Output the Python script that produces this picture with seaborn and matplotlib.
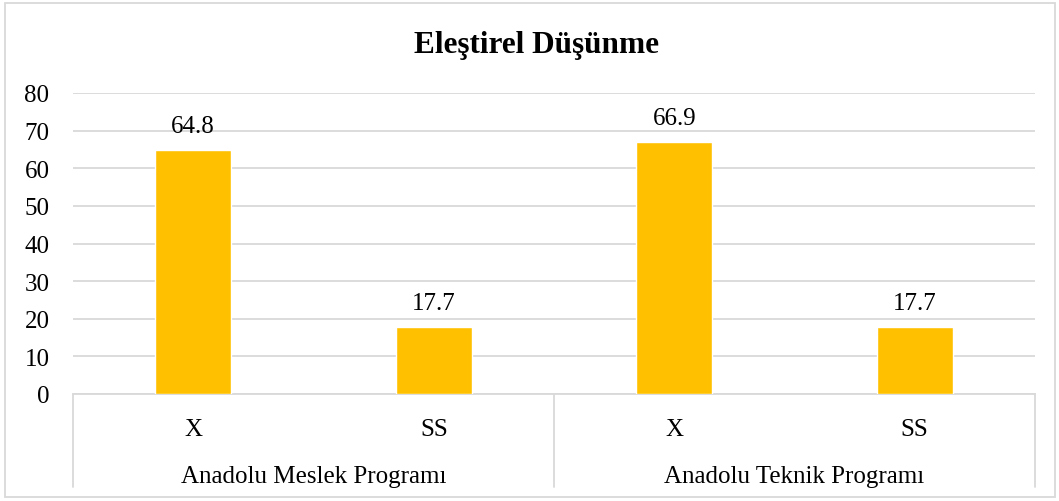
import matplotlib
matplotlib.use("Agg")
import matplotlib.pyplot as plt
import matplotlib.transforms as mtransforms
from matplotlib.patches import Rectangle
import seaborn as sns
import pandas as pd

title = "Eleştirel Düşünme"
groups = ["Anadolu Meslek Programı", "Anadolu Meslek Programı",
          "Anadolu Teknik Programı", "Anadolu Teknik Programı"]
stats = ["X", "SS", "X", "SS"]
values = [64.8, 17.7, 66.9, 17.7]
group_names = ["Anadolu Meslek Programı", "Anadolu Teknik Programı"]
yticks = [0, 10, 20, 30, 40, 50, 60, 70, 80]

sns.set_style("white")
plt.rcParams["font.family"] = ["Liberation Serif", "DejaVu Serif"]
plt.rcParams["text.color"] = "black"
plt.rcParams["ytick.color"] = "black"
plt.rcParams["xtick.color"] = "black"

df = pd.DataFrame({"group": groups, "stat": stats, "value": values})
df["key"] = [f"{g}|{s}|{i}" for i, (g, s) in enumerate(zip(groups, stats))]

W, H = 1059, 502
fig = plt.figure(figsize=(W / 100, H / 100), dpi=100)
L, R, B, T = 73, 1035, 395, 94
ax = fig.add_axes([L / W, (H - B) / H, (R - L) / W, (B - T) / H])

sns.barplot(data=df, x="key", y="value", order=list(df["key"]), color="#FFC000",
            saturation=1, width=0.315, ax=ax, zorder=3)

ax.set_ylim(0, 80)
ax.set_xlim(-0.5, len(values) - 0.5)
ax.set_yticks(yticks)
ax.set_yticklabels([str(t) for t in yticks], fontsize=18, color="black")
ax.tick_params(axis="y", length=0, pad=17)
ax.set_xticks([])
ax.set_xlabel("")
ax.set_ylabel("")
ax.yaxis.grid(True, color="#D9D9D9", linewidth=1.3, zorder=0)
ax.set_axisbelow(True)
for s in ["top", "right", "left"]:
    ax.spines[s].set_visible(False)
ax.spines["bottom"].set_color("#D9D9D9")
ax.spines["bottom"].set_linewidth(1.3)

for c in ax.containers:
    ax.bar_label(c, labels=[f"{v:.1f}" for v in values], padding=9.5, fontsize=18,
                 color="black")

trans = mtransforms.blended_transform_factory(ax.transData, ax.transAxes)
sep_depth = -93 / (B - T)
for xs in [-0.5, 1.5, 3.5]:
    ax.plot([xs, xs], [0, sep_depth], transform=trans, color="#D9D9D9",
            linewidth=1.3, clip_on=False)

xpos = list(range(len(values)))
for x, s in zip(xpos, stats):
    ax.text(x, -35 / (B - T), s, transform=trans, ha="center", va="center",
            fontsize=18, color="black")
for gi, g in enumerate(group_names):
    idx = [i for i, gg in enumerate(groups) if gg == g]
    cx = sum(idx) / len(idx)
    ax.text(cx, -82 / (B - T), g, transform=trans, ha="center", va="center",
            fontsize=18, color="black")

fig.text(536 / W, 1 - 46 / H, title, ha="center", va="center", fontsize=22.5,
         fontweight="bold", color="black")

fig.patches.append(Rectangle((5 / W, 4 / H), 1050 / W, 494 / H, transform=fig.transFigure,
                             fill=False, edgecolor="#D9D9D9", linewidth=1.3))

fig.savefig("out.png", dpi=100, facecolor="white")
